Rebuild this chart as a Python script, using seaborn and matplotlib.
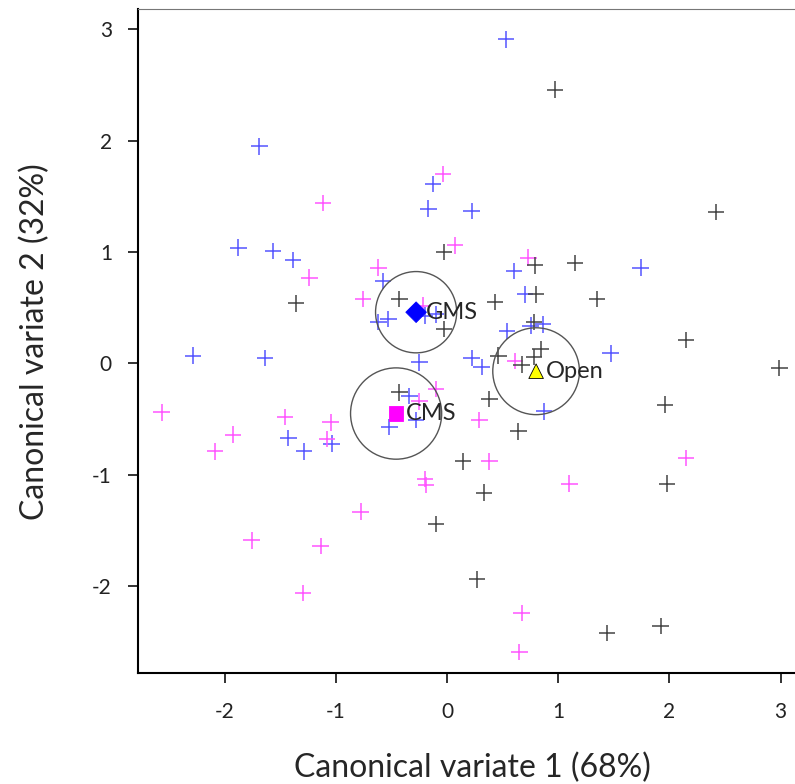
import numpy as np
import pandas as pd
import seaborn as sns
from matplotlib import pyplot as plt
from matplotlib.patches import Circle

sns.set_style("ticks")
plt.rcParams['font.family'] = ['Lato', 'DejaVu Sans']
plt.rcParams['axes.unicode_minus'] = False

# individual canonical scores, per treatment
gms_x = [-1.69, 0.53, -0.13, -0.17, 0.22, -1.88, -1.57, -1.39, -2.29, -1.64, -1.43, -1.04,
         -1.29, 0.60, -0.58, 0.70, -0.53, -0.62, -0.20, -0.10, 0.75, 0.86, 0.54, 0.22,
         0.31, -0.25, 0.87, -0.34, -0.28, -0.52, 1.74, 1.47]
gms_y = [1.95, 2.91, 1.61, 1.39, 1.37, 1.04, 1.01, 0.93, 0.07, 0.05, -0.67, -0.72,
         -0.79, 0.83, 0.74, 0.62, 0.40, 0.37, 0.43, 0.44, 0.34, 0.35, 0.29, 0.05,
         -0.03, 0.01, -0.43, -0.29, -0.51, -0.57, 0.86, 0.09]
cms_x = [-1.12, -0.04, -1.24, -0.76, -0.62, 0.07, 0.73, -0.22, -2.57, -1.46, -1.93, -1.05,
         -1.08, -2.09, -1.76, -1.14, -1.30, -0.78, 0.61, -0.10, -0.25, 0.29, 0.38, -0.20,
         -0.19, 1.10, 0.67, 0.65, 2.15]
cms_y = [1.44, 1.70, 0.77, 0.58, 0.86, 1.06, 0.95, 0.52, -0.44, -0.48, -0.64, -0.53,
         -0.68, -0.79, -1.59, -1.64, -2.06, -1.33, 0.02, -0.23, -0.34, -0.51, -0.88, -1.04,
         -1.09, -1.08, -2.24, -2.59, -0.85]
open_x = [0.97, 2.42, -1.36, -0.03, 0.79, 1.15, -0.43, 0.80, 0.43, -0.03, 0.78, 0.84,
          0.78, 0.46, 0.67, 0.38, -0.43, 0.64, 1.35, 2.15, 2.99, 1.96, 0.14, 0.33,
          -0.10, 0.27, 1.98, 1.44, 1.92]
open_y = [2.46, 1.36, 0.54, 1.00, 0.88, 0.90, 0.58, 0.62, 0.55, 0.31, 0.37, 0.13,
          0.06, 0.07, -0.01, -0.32, -0.26, -0.61, 0.58, 0.21, -0.04, -0.37, -0.88, -1.16,
          -1.44, -1.94, -1.08, -2.42, -2.36]

# group means and 95% confidence radii
groups = ['GMS', 'CMS', 'Open']
mean_x = [-0.28, -0.46, 0.80]
mean_y = [0.46, -0.45, -0.07]
radius = [0.365, 0.41, 0.39]

pts = pd.concat([
    pd.DataFrame({'cv1': gms_x, 'cv2': gms_y, 'group': 'GMS'}),
    pd.DataFrame({'cv1': cms_x, 'cv2': cms_y, 'group': 'CMS'}),
    pd.DataFrame({'cv1': open_x, 'cv2': open_y, 'group': 'Open'}),
])
means = pd.DataFrame({'cv1': mean_x, 'cv2': mean_y, 'group': groups})

fig = plt.figure(figsize=(7.95, 7.84), dpi=100)
# axes runs a little past the right edge, as in the cropped original
ax = fig.add_axes([0.174, 0.1416, 0.84, 0.8465])

sns.scatterplot(data=pts, x='cv1', y='cv2', hue='group',
                palette={'GMS': '#5555ff', 'CMS': '#ff55ff', 'Open': '#444444'},
                marker='+', s=140, linewidth=1.1, legend=False, ax=ax)

for g, cx, cy, r in zip(groups, mean_x, mean_y, radius):
    ax.add_patch(Circle((cx, cy), r, fill=False, edgecolor='#555555', linewidth=1))

sns.scatterplot(data=means, x='cv1', y='cv2', hue='group', style='group',
                palette={'GMS': '#0000ff', 'CMS': '#ff00ff', 'Open': '#ffff00'},
                markers={'GMS': 'D', 'CMS': 's', 'Open': '^'},
                s=110, edgecolor='black', linewidth=0.6, legend=False, ax=ax, zorder=5)
ax.collections[-1].set_edgecolors(['#0000ff', '#ff00ff', 'black'])

for g, cx, cy in zip(groups, mean_x, mean_y):
    ax.text(cx + 0.09, cy, g, fontsize=17, va='center', ha='left', zorder=6)

xmax = -2.78 + (3.13 + 2.78) * 0.84 / 0.826
ax.set_xlim(-2.78, xmax)
ax.set_ylim(-2.78, 3.18)
ax.set_xticks([-2, -1, 0, 1, 2, 3])
ax.set_yticks([-2, -1, 0, 1, 2, 3])
ax.tick_params(direction='out', length=7, width=1.3, labelsize=15, colors='#222222', pad=12)
ax.tick_params(axis='x', pad=14)
ax.set_xlabel('Canonical variate 1 (68%)', fontsize=23, labelpad=22)
ax.set_ylabel('Canonical variate 2 (32%)', fontsize=23, labelpad=30)
for side in ['left', 'bottom']:
    ax.spines[side].set_linewidth(1.5)
    ax.spines[side].set_color('black')
ax.spines['top'].set_color('#777777')
ax.spines['right'].set_visible(False)

plt.savefig('out.png', dpi=100)
